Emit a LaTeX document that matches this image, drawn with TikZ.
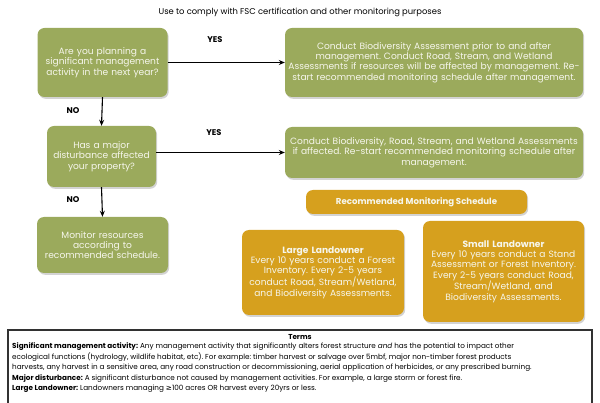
\documentclass[tikz,border=0pt]{standalone}
\usepackage{fontspec}
\setmainfont{Poppins}
\usetikzlibrary{arrows.meta,shadows}
\frenchspacing
\definecolor{leaf}{RGB}{155,170,92}
\definecolor{gold}{RGB}{214,160,30}
\definecolor{boxtext}{RGB}{246,246,236}
\tikzset{
  box/.style={rounded corners=7pt, align=center, inner sep=2pt, text=boxtext,
    font=\fontsize{9.1}{10.3}\selectfont,
    drop shadow={shadow xshift=1.2pt, shadow yshift=-1.8pt, opacity=0.35}},
  greenbox/.style={box, fill=leaf},
  goldbox/.style={box, fill=gold},
  flow/.style={-{Stealth[length=6pt,width=5pt]}, line width=1.1pt, black},
  lab/.style={font=\fontsize{8.3}{9}\selectfont\bfseries}
}
\begin{document}
\begin{tikzpicture}[x=1pt,y=-1pt]
\useasboundingbox (0,0) rectangle (600,403);
\node[font=\fontsize{8.4}{9}\selectfont] (sub) at (300,12) {Use to comply with FSC certification and other monitoring purposes};

\node[greenbox, minimum width=130pt, minimum height=69pt, text width=126pt] (q1) at (102.5,62.5)
  {Are you planning a\\ significant management\\ activity in the next year?};
\node[greenbox, minimum width=298pt, minimum height=69pt, text width=294pt] (a1) at (434,62.5)
  {Conduct Biodiversity Assessment prior to and after\\ management. Conduct Road, Stream, and Wetland\\ Assessments if resources will be affected by management. Re-\\ start recommended monitoring schedule after management.};
\node[greenbox, minimum width=109pt, minimum height=61pt, text width=105pt] (q2) at (101.5,156.5)
  {Has a major\\ disturbance affected\\ your property?};
\node[greenbox, minimum width=298pt, minimum height=51pt, text width=294pt] (a2) at (434,152.5)
  {Conduct Biodiversity, Road, Stream, and Wetland Assessments\\ if affected. Re-start recommended monitoring schedule after\\ management.};
\node[greenbox, minimum width=131pt, minimum height=56pt, text width=127pt] (m) at (102.5,245)
  {Monitor resources\\ according to\\ recommended schedule.};
\node[goldbox, minimum width=221pt, minimum height=24pt, font=\fontsize{8.6}{10.3}\selectfont\bfseries] (r) at (416.5,202)
  {Recommended Monitoring Schedule};
\node[goldbox, minimum width=160pt, minimum height=85pt, text width=158pt] (l) at (323,272.5)
  {\textbf{Large Landowner}\\ Every 10 years conduct a Forest\\ Inventory. Every 2-5 years\\ conduct Road, Stream/Wetland,\\ and Biodiversity Assessments.};
\node[goldbox, minimum width=159pt, minimum height=101pt, text width=157pt] (s) at (503.5,271.5)
  {\textbf{Small Landowner}\\ Every 10 years conduct a Stand\\ Assessment or Forest Inventory.\\ Every 2-5 years conduct Road,\\ Stream/Wetland, and\\ Biodiversity Assessments.};

\draw[flow] (q1.east |- a1.west) -- (a1.west);
\draw[flow] (q1.south) -- (q2.north);
\draw[flow] (q2.east |- a2.west) -- (a2.west);
\draw[flow] (q2.south) -- (m.north);

\node[lab] (yes1) at (215,40) {YES};
\node[lab] (yes2) at (214,133) {YES};
\node[lab] (no1) at (73,111) {NO};
\node[lab] (no2) at (73,200) {NO};

\draw[line width=1.4pt, draw={rgb,255:red,50;green,50;blue,50}] (8,330) rectangle (592,412);
\node[font=\fontsize{7.2}{10.6}\selectfont\bfseries] (terms) at (300,337) {Terms};
\node[anchor=north west, align=left, inner sep=0pt, font=\fontsize{7.25}{10.6}\selectfont] (defs) at (12,342.5)
  {\textbf{Significant management activity:} Any management activity that significantly alters forest structure \emph{and} has the potential to impact other\\
   ecological functions (hydrology, wildlife habitat, etc). For example: timber harvest or salvage over 5mbf, major non-timber forest products\\
   harvests, any harvest in a sensitive area, any road construction or decommissioning, aerial application of herbicides, or any prescribed burning.\\
   \textbf{Major disturbance:} A significant disturbance not caused by management activities. For example, a large storm or forest fire.\\
   \textbf{Large Landowner:} Landowners managing {\fontspec{DejaVu Sans}≥}100 acres OR harvest every 20yrs or less.};
\end{tikzpicture}
\end{document}
